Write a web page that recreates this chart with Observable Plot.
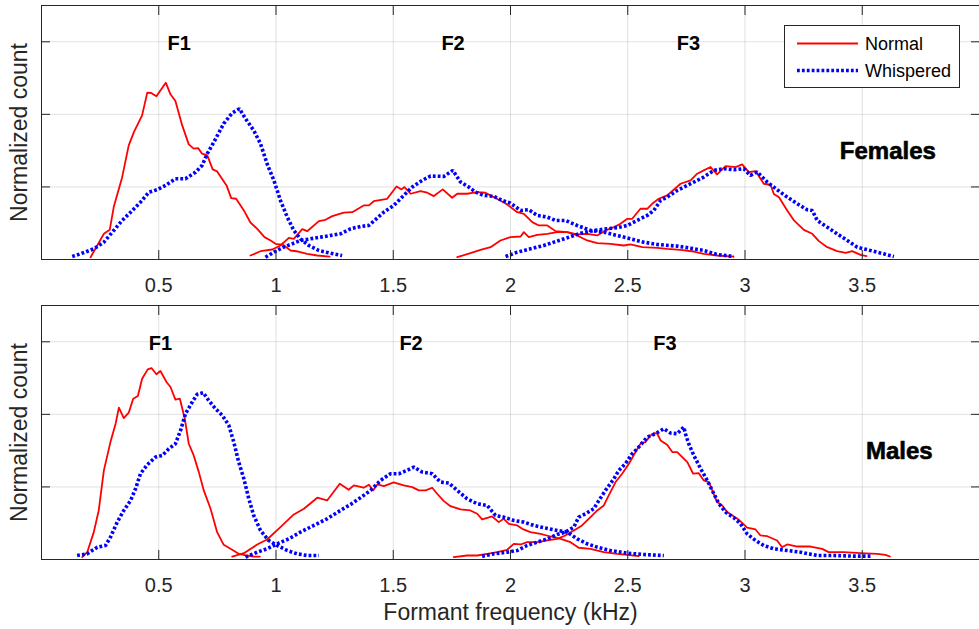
<!DOCTYPE html>
<html><head><meta charset="utf-8">
<script src="https://cdn.jsdelivr.net/npm/d3@7"></script>
<script src="https://cdn.jsdelivr.net/npm/@observablehq/plot@0.6"></script>
<style>
body{margin:0;background:#fff;font-family:"Liberation Sans",Arial,Helvetica,sans-serif;}
#wrap{position:relative;width:979px;height:629px;overflow:hidden;}
#wrap > svg{display:block}
#legend{position:absolute;left:784px;top:25px;}
</style></head><body><div id="wrap"></div>
<script>
// ---- tick values ----
const xTicks = [0.5, 1, 1.5, 2, 2.5, 3, 3.5];
const yTicks = [1, 2, 3];
const seriesNames = ["Normal", "Whispered"];
const panelNames = ["Females", "Males"];
const formantNames = ["F1", "F2", "F3"];

// ---- Females, Normal ----
const fF1N = [[0.209,0.03],[0.266,0.354],[0.291,0.409],[0.308,0.722],[0.344,1.135],[0.372,1.572],[0.394,1.756],[0.429,1.986],[0.451,2.299],[0.468,2.294],[0.490,2.248],[0.530,2.437],[0.550,2.276],[0.571,2.184],[0.600,1.848],[0.628,1.586],[0.649,1.527],[0.668,1.535],[0.685,1.458],[0.707,1.434],[0.730,1.241],[0.749,1.214],[0.789,1.021],[0.809,0.846],[0.830,0.837],[0.863,0.676],[0.891,0.510],[0.920,0.423],[0.951,0.308],[0.977,0.262],[0.998,0.216],[1.031,0.202],[1.062,0.124],[1.095,0.110],[1.133,0.078],[1.176,0.055],[1.229,0.041]];
const fF2N = [[0.891,0.055],[0.934,0.114],[0.984,0.138],[1.019,0.193],[1.055,0.298],[1.076,0.285],[1.112,0.418],[1.133,0.390],[1.183,0.528],[1.211,0.547],[1.240,0.598],[1.289,0.645],[1.325,0.652],[1.374,0.745],[1.396,0.745],[1.417,0.803],[1.474,0.836],[1.514,1.007],[1.535,0.966],[1.548,0.998],[1.574,0.906],[1.616,0.942],[1.645,0.920],[1.673,0.874],[1.711,0.966],[1.751,0.851],[1.773,0.906],[1.815,0.906],[1.858,0.928],[1.893,0.920],[1.929,0.860],[1.986,0.757],[2.029,0.652],[2.057,0.630],[2.093,0.515],[2.121,0.469],[2.157,0.469],[2.192,0.391],[2.242,0.377],[2.284,0.331],[2.327,0.262],[2.370,0.225],[2.426,0.216],[2.483,0.193],[2.512,0.207],[2.562,0.170],[2.626,0.161],[2.668,0.147],[2.725,0.134],[2.782,0.110],[2.824,0.078],[2.881,0.055],[2.951,0.041]];
const fF3N = [[1.773,0.032],[1.829,0.087],[1.872,0.133],[1.915,0.170],[1.957,0.262],[2.000,0.308],[2.043,0.317],[2.057,0.377],[2.078,0.308],[2.114,0.340],[2.157,0.354],[2.199,0.377],[2.242,0.377],[2.284,0.345],[2.327,0.354],[2.370,0.331],[2.405,0.400],[2.441,0.446],[2.469,0.492],[2.498,0.561],[2.519,0.561],[2.554,0.699],[2.583,0.699],[2.604,0.768],[2.632,0.837],[2.668,0.883],[2.696,0.961],[2.725,1.044],[2.768,1.090],[2.796,1.182],[2.824,1.228],[2.853,1.274],[2.881,1.172],[2.917,1.287],[2.960,1.274],[2.988,1.310],[3.016,1.204],[3.045,1.218],[3.080,1.044],[3.109,1.030],[3.123,0.903],[3.145,0.857],[3.180,0.676],[3.209,0.538],[3.251,0.409],[3.287,0.354],[3.315,0.253],[3.351,0.170],[3.393,0.115],[3.429,0.092],[3.457,0.115],[3.493,0.064],[3.518,0.046]];
// ---- Females, Whispered ----
const fF1W = [[0.131,0.041],[0.166,0.078],[0.223,0.147],[0.266,0.239],[0.308,0.400],[0.344,0.538],[0.380,0.652],[0.422,0.790],[0.458,0.928],[0.493,0.961],[0.529,1.021],[0.571,1.113],[0.614,1.113],[0.657,1.204],[0.685,1.297],[0.707,1.458],[0.735,1.618],[0.777,1.872],[0.813,2.018],[0.844,2.078],[0.870,1.940],[0.905,1.779],[0.934,1.595],[0.962,1.319],[0.991,1.090],[1.019,0.814],[1.048,0.584],[1.076,0.400],[1.104,0.285],[1.140,0.193],[1.183,0.124],[1.232,0.087],[1.282,0.055]];
const fF2W = [[0.955,0.032],[0.991,0.101],[1.033,0.170],[1.069,0.216],[1.104,0.262],[1.147,0.285],[1.190,0.308],[1.232,0.331],[1.275,0.354],[1.318,0.423],[1.360,0.455],[1.396,0.469],[1.417,0.529],[1.460,0.653],[1.502,0.745],[1.545,0.883],[1.581,0.998],[1.623,1.090],[1.659,1.150],[1.716,1.145],[1.754,1.228],[1.787,1.067],[1.822,0.998],[1.851,0.929],[1.886,0.883],[1.929,0.869],[1.965,0.814],[2.000,0.777],[2.043,0.676],[2.078,0.686],[2.114,0.607],[2.157,0.584],[2.192,0.538],[2.235,0.538],[2.284,0.469],[2.341,0.400],[2.398,0.377],[2.455,0.331],[2.512,0.285],[2.568,0.239],[2.626,0.207],[2.711,0.184],[2.768,0.156],[2.824,0.124],[2.881,0.069],[2.952,0.041]];
const fF3W = [[1.979,0.041],[2.029,0.101],[2.085,0.147],[2.142,0.193],[2.185,0.239],[2.242,0.299],[2.299,0.363],[2.355,0.400],[2.412,0.423],[2.455,0.437],[2.498,0.469],[2.540,0.538],[2.583,0.607],[2.611,0.676],[2.640,0.814],[2.668,0.860],[2.711,0.952],[2.754,1.021],[2.782,1.067],[2.824,1.136],[2.867,1.228],[2.910,1.251],[2.952,1.237],[2.995,1.251],[3.023,1.159],[3.052,1.205],[3.095,1.067],[3.137,0.961],[3.180,0.860],[3.223,0.768],[3.265,0.685],[3.287,0.676],[3.308,0.538],[3.351,0.446],[3.393,0.354],[3.436,0.262],[3.479,0.170],[3.535,0.124],[3.592,0.078],[3.635,0.041]];
// ---- Males, Normal ----
const mF1N = [[0.174,0.032],[0.195,0.101],[0.223,0.377],[0.244,0.676],[0.266,1.228],[0.294,1.618],[0.316,1.871],[0.330,2.092],[0.351,1.949],[0.372,2.023],[0.391,2.216],[0.411,2.252],[0.429,2.491],[0.453,2.620],[0.469,2.638],[0.490,2.552],[0.507,2.597],[0.533,2.446],[0.550,2.377],[0.571,2.202],[0.590,2.216],[0.611,1.940],[0.628,1.595],[0.649,1.434],[0.671,1.204],[0.692,0.952],[0.721,0.699],[0.749,0.377],[0.777,0.202],[0.806,0.147],[0.841,0.078],[0.877,0.055],[0.905,0.041],[0.931,0.041]];
const mF2N = [[0.813,0.041],[0.863,0.087],[0.920,0.206],[0.962,0.276],[1.019,0.446],[1.076,0.621],[1.119,0.699],[1.176,0.851],[1.218,0.814],[1.272,1.044],[1.310,0.961],[1.332,1.021],[1.374,0.989],[1.396,1.030],[1.414,0.952],[1.432,1.034],[1.460,1.011],[1.502,1.062],[1.545,1.021],[1.581,0.998],[1.609,0.952],[1.638,0.952],[1.666,0.989],[1.687,0.906],[1.716,0.804],[1.744,0.735],[1.787,0.690],[1.829,0.676],[1.858,0.630],[1.879,0.552],[1.901,0.575],[1.922,0.593],[1.950,0.515],[1.971,0.561],[1.993,0.492],[2.029,0.469],[2.050,0.423],[2.085,0.377],[2.128,0.354],[2.171,0.317],[2.214,0.285],[2.256,0.239],[2.291,0.162],[2.341,0.147],[2.398,0.101],[2.455,0.078],[2.498,0.064],[2.547,0.046]];
const mF3N = [[1.758,0.032],[1.815,0.055],[1.858,0.055],[1.901,0.078],[1.943,0.101],[1.986,0.134],[2.014,0.216],[2.043,0.207],[2.071,0.239],[2.114,0.239],[2.157,0.262],[2.199,0.285],[2.234,0.331],[2.270,0.400],[2.305,0.469],[2.341,0.584],[2.370,0.676],[2.398,0.745],[2.419,0.883],[2.448,1.067],[2.476,1.182],[2.505,1.320],[2.533,1.480],[2.557,1.610],[2.576,1.618],[2.597,1.710],[2.614,1.742],[2.626,1.733],[2.640,1.641],[2.668,1.581],[2.690,1.480],[2.711,1.480],[2.725,1.434],[2.754,1.342],[2.779,1.182],[2.803,1.190],[2.824,1.090],[2.846,1.067],[2.881,0.791],[2.903,0.745],[2.924,0.653],[2.974,0.547],[3.009,0.438],[3.045,0.414],[3.066,0.331],[3.095,0.321],[3.137,0.262],[3.158,0.170],[3.180,0.207],[3.223,0.179],[3.279,0.179],[3.329,0.147],[3.357,0.101],[3.421,0.101],[3.493,0.087],[3.564,0.078],[3.599,0.064],[3.618,0.041]];
// ---- Males, Whispered ----
const mF1W = [[0.152,0.055],[0.195,0.078],[0.238,0.170],[0.273,0.193],[0.294,0.308],[0.323,0.515],[0.351,0.676],[0.380,0.814],[0.401,0.975],[0.422,1.182],[0.451,1.306],[0.486,1.411],[0.515,1.434],[0.543,1.526],[0.571,1.595],[0.593,1.779],[0.614,2.009],[0.643,2.170],[0.664,2.276],[0.690,2.299],[0.713,2.193],[0.742,2.078],[0.771,1.986],[0.799,1.848],[0.820,1.618],[0.841,1.342],[0.863,1.113],[0.884,0.837],[0.905,0.607],[0.934,0.400],[0.969,0.262],[1.005,0.193],[1.048,0.124],[1.090,0.078],[1.133,0.055],[1.183,0.055]];
const mF2W = [[0.870,0.032],[0.920,0.101],[0.962,0.147],[1.005,0.216],[1.055,0.285],[1.104,0.377],[1.161,0.469],[1.218,0.561],[1.275,0.676],[1.318,0.759],[1.360,0.851],[1.403,0.952],[1.446,1.090],[1.488,1.182],[1.524,1.182],[1.559,1.228],[1.588,1.274],[1.623,1.205],[1.666,1.182],[1.701,1.067],[1.737,1.053],[1.773,0.952],[1.815,0.837],[1.858,0.768],[1.901,0.745],[1.936,0.607],[1.971,0.584],[2.014,0.538],[2.057,0.515],[2.100,0.469],[2.142,0.437],[2.185,0.409],[2.242,0.377],[2.284,0.285],[2.327,0.216],[2.370,0.170],[2.426,0.124],[2.498,0.087],[2.568,0.069],[2.654,0.055]];
const mF3W = [[1.879,0.046],[1.929,0.078],[1.986,0.101],[2.029,0.124],[2.071,0.193],[2.114,0.239],[2.157,0.285],[2.199,0.345],[2.234,0.377],[2.270,0.446],[2.291,0.584],[2.320,0.630],[2.355,0.699],[2.377,0.814],[2.405,0.952],[2.441,1.113],[2.462,1.228],[2.490,1.320],[2.519,1.458],[2.547,1.549],[2.583,1.687],[2.618,1.733],[2.654,1.802],[2.682,1.742],[2.711,1.733],[2.739,1.825],[2.746,1.733],[2.760,1.595],[2.782,1.434],[2.811,1.250],[2.839,1.090],[2.860,0.952],[2.889,0.768],[2.917,0.653],[2.952,0.575],[2.981,0.492],[3.009,0.354],[3.045,0.262],[3.080,0.193],[3.123,0.147],[3.180,0.124],[3.237,0.101],[3.308,0.055],[3.379,0.055],[3.464,0.046],[3.535,0.046]];

// ---- annotation anchors (data units) ----
const femaleLabelX = [0.587, 1.755, 2.759];
const maleLabelX = [0.507, 1.576, 2.659];
const formantLabelY = 2.97;
const panelLabelX = [3.609, 3.658];
const panelLabelY = [1.484, 1.486];

function rows(arr, formant, kind) {
  return arr.map(([x, y]) => ({x, y, formant, kind}));
}
const femaleData = [
  ...rows(fF1N, "F1", "Normal"), ...rows(fF2N, "F2", "Normal"), ...rows(fF3N, "F3", "Normal"),
  ...rows(fF1W, "F1", "Whispered"), ...rows(fF2W, "F2", "Whispered"), ...rows(fF3W, "F3", "Whispered")
];
const maleData = [
  ...rows(mF1N, "F1", "Normal"), ...rows(mF2N, "F2", "Normal"), ...rows(mF3N, "F3", "Normal"),
  ...rows(mF1W, "F1", "Whispered"), ...rows(mF2W, "F2", "Whispered"), ...rows(mF3W, "F3", "Whispered")
];

const AX = "#262626";
const FONT = "'Liberation Sans', Arial, Helvetica, sans-serif";
const DASH = "2.8,2.1";
const BLUE_W = 3.6;

function panel(data, labelXs, pIdx, isBottom) {
  const fLabels = formantNames.map((t, i) => ({x: labelXs[i], y: formantLabelY, t}));
  const pLabel = [{x: panelLabelX[pIdx], y: panelLabelY[pIdx], t: panelNames[pIdx]}];
  const marks = [
    Plot.gridX(xTicks, {stroke: "#000", strokeOpacity: 0.12}),
    Plot.gridY(yTicks, {stroke: "#000", strokeOpacity: 0.12}),
    Plot.line(data.filter(d => d.kind === "Normal"), {x: "x", y: "y", z: "formant", stroke: "#ff0000", strokeWidth: 1.8, curve: "linear"}),
    Plot.line(data.filter(d => d.kind === "Whispered"), {x: "x", y: "y", z: "formant", stroke: "#0000ff", strokeWidth: BLUE_W, strokeDasharray: DASH, strokeLinecap: "butt", strokeLinejoin: "miter", curve: "linear"}),
    Plot.text(fLabels, {x: "x", y: "y", text: "t", fontSize: 20, fontWeight: "bold", fill: "#000", lineAnchor: "middle"}),
    Plot.text(pLabel, {x: "x", y: "y", text: "t", fontSize: 24, fontWeight: "bold", fill: "#000", stroke: "#000", strokeWidth: 0.6, lineAnchor: "middle"}),
    Plot.axisX(xTicks, {anchor: "bottom", tickSize: -9, tickFormat: () => "", stroke: AX, label: null}),
    Plot.axisX(xTicks, {anchor: "top", tickSize: -9, tickFormat: () => "", stroke: AX, label: null}),
    Plot.axisY(yTicks, {anchor: "left", tickSize: -9, tickFormat: () => "", stroke: AX, label: null}),
    Plot.axisY(yTicks, {anchor: "right", tickSize: -9, tickFormat: () => "", stroke: AX, label: null}),
    Plot.axisX(xTicks, {anchor: "bottom", tickSize: 0, tickPadding: 18, fontSize: 20, fill: AX, label: null, tickFormat: d => String(d)}),
    Plot.frame({stroke: AX, strokeWidth: 1}),
    Plot.text(["Normalized count"], {frameAnchor: "left", rotate: -90, dx: -22, fontSize: 23, fill: AX, textAnchor: "middle", text: d => d})
  ];
  if (isBottom) {
    marks.push(Plot.text(["Formant frequency (kHz)"], {frameAnchor: "bottom", dy: 53, fontSize: 23, fill: AX, lineAnchor: "middle", textAnchor: "middle", text: d => d}));
  }
  return Plot.plot({
    width: 979,
    height: isBottom ? 329 : 300,
    marginLeft: 41, marginRight: 0, marginTop: 5, marginBottom: isBottom ? 70 : 41,
    x: {domain: [0, 4], label: null},
    y: {domain: [0, 3.5], label: null},
    style: {fontFamily: FONT, background: "white", color: AX, overflow: "visible"},
    marks
  });
}

const wrap = document.getElementById("wrap");
wrap.appendChild(panel(femaleData, femaleLabelX, 0, false));
wrap.appendChild(panel(maleData, maleLabelX, 1, true));

// ---- legend ----
const lg = d3.select(wrap).append("svg").attr("id", "legend").attr("width", 176).attr("height", 63);
lg.append("rect").attr("x", 0.5).attr("y", 0.5).attr("width", 175).attr("height", 62).attr("fill", "#fff").attr("stroke", AX);
const rowsY = [18.5, 45.5];
seriesNames.forEach((name, i) => {
  lg.append("line").attr("x1", 13).attr("x2", 74).attr("y1", rowsY[i]).attr("y2", rowsY[i])
    .attr("stroke", i === 0 ? "#ff0000" : "#0000ff")
    .attr("stroke-width", i === 0 ? 1.8 : BLUE_W)
    .attr("stroke-dasharray", i === 0 ? null : DASH);
  lg.append("text").attr("x", 81).attr("y", rowsY[i]).attr("dy", "0.35em")
    .attr("font-family", FONT).attr("font-size", 18).attr("fill", "#000").text(name);
});
</script></body></html>
